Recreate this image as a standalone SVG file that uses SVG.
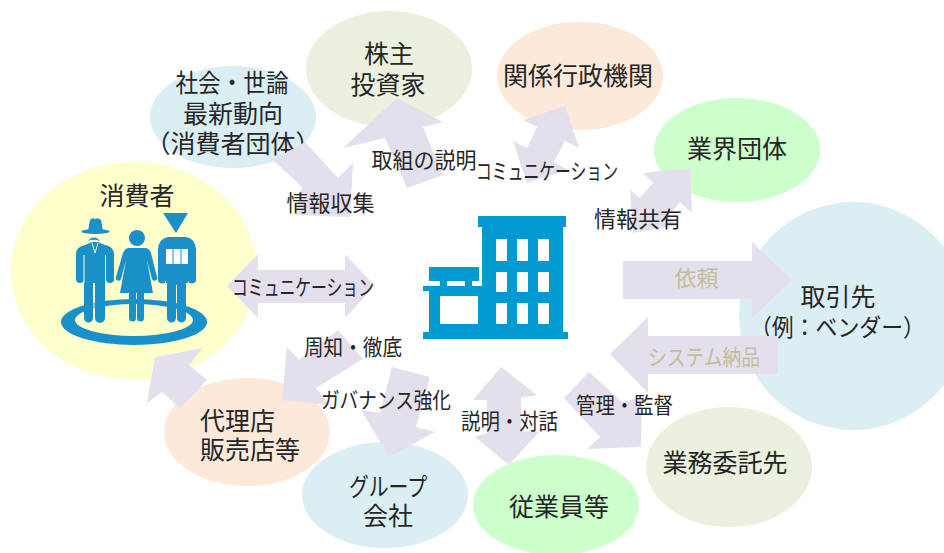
<svg xmlns="http://www.w3.org/2000/svg" width="944" height="553" viewBox="0 0 944 553">
<style>
text{font-family:"Liberation Sans","Noto Sans CJK JP",sans-serif;fill:#262626;dominant-baseline:central;text-anchor:middle}
.n{font-size:25px}
.m{font-size:24px}
.l{font-size:22px}
.s{text-anchor:start}
.t{fill:#c4bd97}
.a{fill:#e4dfec}
.i{fill:#1a90c8}
.w{fill:#fff}
.b{fill:#0099d2}
.ws{stroke:#ffffcc;stroke-width:1;fill:none}
.cl{stroke:#1a90c8;stroke-width:1;fill:none}
</style>
<rect width="944" height="553" fill="#fff"/>
<g id="node-consumer">
<ellipse cx="134" cy="271" rx="123" ry="109" fill="#ffffcc"/>
<text class="n" x="137" y="196">消費者</text>
<g id="consumer-icon">
<path class="i" fill-rule="evenodd" d="M61 322a73 23 0 1 0 146 0a73 23 0 1 0-146 0ZM75 320a59 16 0 1 1 118 0a59 16 0 1 1-118 0Z"/>
<path class="i" d="M88 231L90 220Q92 217 95 219Q98 217 101 220L103 231Z"/>
<ellipse class="i" cx="95.500" cy="231.500" rx="14" ry="2.500"/>
<path class="i" d="M88 241Q92 236 94 238Q96 236 100 241Q95 239 94 240Q92 239 88 241Z"/>
<path class="i" d="M85 245Q90 243 92 242H98Q100 243 105 245Q114 247 114 254V279a4 4 0 0 1-8 0V258H105V318a5 5 0 0 1-10 0V283H93V318a4.500 4.500 0 0 1-9 0V258V279a4 4 0 0 1-8 0V254Q76 247 85 245Z"/>
<path class="ws" d="M92 243L95 253L98 243M84 255V283M105.500 255V283M94 283V322"/>
<circle class="i" cx="137" cy="238" r="8"/>
<path class="i" d="M129 248H145Q149 248 151 253L157 277a2.500 2.500 0 0 1-5 2L147 260L153 293H144V318a3.500 3.500 0 0 1-7 0V293H136V318a3.500 3.500 0 0 1-7 0V293H120L126 260L121 279a2.500 2.500 0 0 1-5-2L123 253Q125 248 129 248Z"/>
<path class="i" d="M163 213H188L176 233Z"/>
<path class="i" d="M168 237H186Q196 239 196 250V279a3 3 0 0 1-8 1V283H186V318a4.500 4.500 0 0 1-9 0V285H176V318a4.500 4.500 0 0 1-9 0V283H166V280a3 3 0 0 1-8-1V250Q158 239 168 237Z"/>
<path class="w" d="M166 249H188V264H166Z"/>
<path class="cl" d="M173 249V264M181 249V264"/>
</g>
</g>
<g id="node-society">
<ellipse cx="233" cy="117" rx="83" ry="51" fill="#daeef3"/>
<text class="n" x="232" y="83" textLength="113" lengthAdjust="spacingAndGlyphs">社会・世論</text>
<text class="n" x="233" y="114">最新動向</text>
<text class="n" x="233" y="144">（消費者団体）</text>
</g>
<g id="node-shareholder">
<ellipse cx="389" cy="69" rx="83" ry="58" fill="#ebf1de"/>
<text class="n" x="389" y="54">株主</text>
<text class="n" x="388" y="85">投資家</text>
</g>
<g id="node-government">
<ellipse cx="580" cy="76" rx="83" ry="54" fill="#fde9d9"/>
<text class="n" x="578" y="76">関係行政機関</text>
</g>
<g id="node-industry">
<ellipse cx="737" cy="150" rx="83" ry="52" fill="#ccffcc"/>
<text class="n" x="737" y="149">業界団体</text>
</g>
<g id="node-partner">
<ellipse cx="853" cy="316" rx="114" ry="114" fill="#daeef3"/>
<text class="n" x="838" y="297">取引先</text>
<text class="m" x="837.500" y="327" textLength="175" lengthAdjust="spacingAndGlyphs">（例：ベンダー）</text>
</g>
<g id="node-contractor">
<ellipse cx="729" cy="467" rx="83" ry="60" fill="#ebf1de"/>
<text class="n" x="725" y="463">業務委託先</text>
</g>
<g id="node-employee">
<ellipse cx="556" cy="505" rx="83" ry="50" fill="#ccffcc"/>
<text class="n" x="559" y="507">従業員等</text>
</g>
<g id="node-group">
<ellipse cx="385" cy="495" rx="83" ry="53" fill="#daeef3"/>
<text class="n" x="388" y="487" textLength="78" lengthAdjust="spacingAndGlyphs">グループ</text>
<text class="n" x="388" y="516">会社</text>
</g>
<g id="node-agency">
<ellipse cx="247" cy="432" rx="83" ry="54" fill="#fde9d9"/>
<text class="n s" x="200" y="421">代理店</text>
<text class="n s" x="200" y="450">販売店等</text>
</g>
<g id="connectors">
<polygon class="a" points="227,286 258,254 258,270 345,270 345,254 375,286 345,318 345,303 258,303 258,318"/>
<polygon class="a" points="273,160 305,142 338,178 353,163 350,217 295,215 302,187"/>
<polygon class="a" points="397,98 443,122 423,127 443,175 407,188 385,138 343,148"/>
<polygon class="a" points="565,106 579,148 565,141 554,162 568,170 527,183 513,141 527,148 537,127 523,120"/>
<polygon class="a" points="690,168 692,213 680,202 668,217 678,225 633,233 630,190 640,198 653,183 643,173"/>
<polygon class="a" points="623,261 752,261 752,242 792,280 752,318 752,299 623,299"/>
<polygon class="a" points="610,354 648,317 648,336 778,336 778,374 648,374 648,393"/>
<polygon class="a" points="589,372 622,402 642,397 641,447 587,449 600,437 564,398"/>
<polygon class="a" points="501,367 537,395 521,398 521,431 539,432 509,465 475,437 487,433 487,400 473,400"/>
<polygon class="a" points="392,367 430,377 416,427 435,432 389,457 361,410 380,413"/>
<polygon class="a" points="338,330 363,359 316,388 330,405 282,400 287,347 299,360"/>
<polygon class="a" points="155,357 203,348 189,365 207,380 180,408 162,392 147,403"/>
<text class="l" x="303" y="287" textLength="142" lengthAdjust="spacingAndGlyphs">コミュニケーション</text>
<text class="l" x="330.500" y="203">情報収集</text>
<text class="l" x="424" y="160" textLength="105" lengthAdjust="spacingAndGlyphs">取組の説明</text>
<text class="l" x="547" y="171" textLength="142" lengthAdjust="spacingAndGlyphs">コミュニケーション</text>
<text class="l" x="638" y="219">情報共有</text>
<text class="l" x="353" y="347" textLength="98" lengthAdjust="spacingAndGlyphs">周知・徹底</text>
<text class="l" x="386" y="400" textLength="130" lengthAdjust="spacingAndGlyphs">ガバナンス強化</text>
<text class="l" x="509.500" y="421" textLength="97" lengthAdjust="spacingAndGlyphs">説明・対話</text>
<text class="l" x="624.500" y="405" textLength="97" lengthAdjust="spacingAndGlyphs">管理・監督</text>
<text class="l t" x="696.500" y="278">依頼</text>
<text class="l t" x="704" y="357" textLength="112" lengthAdjust="spacingAndGlyphs">システム納品</text>
</g>
<g id="node-company">
<path class="b" fill-rule="evenodd" d="M478 216H566V227H563V332H568V339H423V332H429V291H423V286H440V281H429V267H479V281H472V286H482V227H478ZM465 281H447V286H465ZM496 239V261H507V239ZM517 239V261H528V239ZM538 239V261H549V239ZM496 272V292H507V272ZM517 272V292H528V272ZM538 272V292H549V272ZM496 303V324H507V303ZM517 303V324H528V303ZM538 303V324H549V303ZM440 296V324H478V296Z"/>
</g>
</svg>
